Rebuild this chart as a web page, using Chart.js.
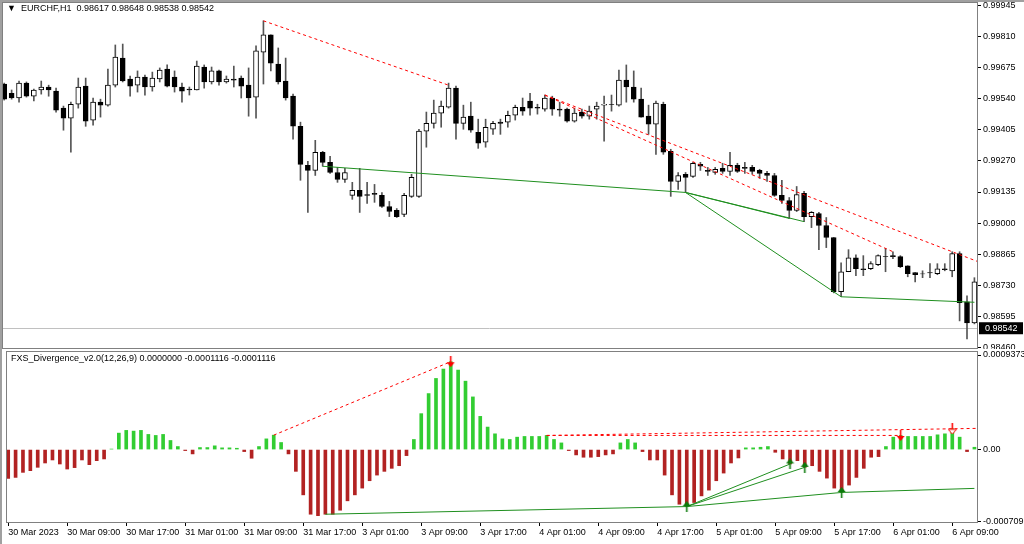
<!DOCTYPE html>
<html>
<head>
<meta charset="utf-8">
<script src="https://cdn.jsdelivr.net/npm/chart.js@4"></script>
<style>
  html, body { margin: 0; padding: 0; background: #fff; }
  #wrap { position: relative; width: 1024px; height: 544px; overflow: hidden; }
  #wrap canvas { position: absolute; left: 0; }
  #main { top: 0; }
  #ind { top: 345px; }
  .frame { position: absolute; background: #a0a0a0; }
</style>
</head>
<body>
<div id="wrap">
  <canvas id="ind" width="1024" height="199"></canvas>
  <canvas id="main" width="1024" height="349"></canvas>
  <div class="frame" style="left:0;top:0;width:2px;height:544px"></div>
  <div class="frame" style="left:0;top:0;width:1024px;height:2px"></div>
</div>
<script>
// EURCHF H1 candles, bar 0 = 30 Mar 2023 01:00
const opens = [0.99605,0.99565,0.99544,0.99609,0.99552,0.99579,0.99592,0.99574,0.99500,0.99456,
  0.99517,0.99596,0.99448,0.99526,0.99513,0.99600,0.99718,0.99627,0.99600,0.99635,
  0.99592,0.99627,0.99670,0.99635,0.99592,0.99583,0.99579,0.99679,0.99614,0.99662,
  0.99614,0.99627,0.99631,0.99600,0.99548,0.99744,0.99819,0.99692,0.99618,0.99552,
  0.99421,0.99251,0.99229,0.99308,0.99264,0.99220,0.99190,0.99120,0.99142,0.99124,
  0.99129,0.99120,0.99072,0.99055,0.99037,0.99116,0.99116,0.99400,0.99434,0.99478,
  0.99504,0.99587,0.99434,0.99465,0.99395,0.99352,0.99408,0.99439,0.99439,0.99469,
  0.99504,0.99531,0.99504,0.99496,0.99544,0.99496,0.99496,0.99443,0.99483,0.99465,
  0.99496,0.99513,0.99517,0.99513,0.99622,0.99592,0.99539,0.99465,0.99430,0.99517,
  0.99312,0.99181,0.99212,0.99203,0.99255,0.99229,0.99220,0.99238,0.99225,0.99251,
  0.99242,0.99242,0.99229,0.99216,0.99207,0.99120,0.99098,0.99055,0.99129,0.99028,
  0.99041,0.98989,0.98937,0.98701,0.98788,0.98849,0.98801,0.98801,0.98819,0.98854,
  0.98858,0.98854,0.98814,0.98784,0.98779,0.98784,0.98779,0.98801,0.98792,0.98867,
  0.98657,0.98565]
const highs = [0.99609,0.99579,0.99618,0.99614,0.99583,0.99618,0.99600,0.99587,0.99509,0.99526,
  0.99631,0.99631,0.99544,0.99539,0.99670,0.99775,0.99779,0.99640,0.99662,0.99644,
  0.99657,0.99675,0.99688,0.99662,0.99609,0.99592,0.99705,0.99688,0.99679,0.99666,
  0.99640,0.99683,0.99640,0.99675,0.99771,0.99880,0.99819,0.99762,0.99718,0.99561,
  0.99439,0.99268,0.99360,0.99312,0.99290,0.99242,0.99238,0.99177,0.99238,0.99177,
  0.99168,0.99133,0.99094,0.99063,0.99129,0.99212,0.99408,0.99483,0.99535,0.99531,
  0.99609,0.99596,0.99513,0.99526,0.99452,0.99452,0.99443,0.99452,0.99487,0.99513,
  0.99544,0.99565,0.99517,0.99557,0.99552,0.99526,0.99500,0.99500,0.99496,0.99509,
  0.99526,0.99552,0.99557,0.99666,0.99688,0.99662,0.99587,0.99513,0.99531,0.99526,
  0.99321,0.99220,0.99220,0.99264,0.99264,0.99242,0.99242,0.99260,0.99308,0.99260,
  0.99264,0.99251,0.99234,0.99225,0.99216,0.99186,0.99111,0.99159,0.99138,0.99050,
  0.99046,0.99024,0.98937,0.98827,0.98884,0.98862,0.98858,0.98832,0.98862,0.98889,
  0.98875,0.98858,0.98814,0.98784,0.98792,0.98823,0.98823,0.98823,0.98875,0.98875,
  0.98683,0.98762]
const lows = [0.99535,0.99539,0.99526,0.99548,0.99531,0.99561,0.99552,0.99483,0.99404,0.99308,
  0.99500,0.99421,0.99426,0.99461,0.99509,0.99592,0.99614,0.99552,0.99570,0.99557,
  0.99574,0.99614,0.99592,0.99570,0.99526,0.99557,0.99579,0.99587,0.99605,0.99600,
  0.99609,0.99592,0.99544,0.99465,0.99456,0.99605,0.99662,0.99605,0.99535,0.99365,
  0.99186,0.99046,0.99207,0.99247,0.99216,0.99177,0.99177,0.99103,0.99046,0.99085,
  0.99090,0.99068,0.99028,0.99024,0.99028,0.99111,0.99111,0.99330,0.99413,0.99417,
  0.99500,0.99365,0.99408,0.99395,0.99325,0.99330,0.99386,0.99386,0.99417,0.99448,
  0.99469,0.99469,0.99474,0.99487,0.99469,0.99465,0.99439,0.99439,0.99456,0.99452,
  0.99452,0.99356,0.99487,0.99509,0.99526,0.99526,0.99461,0.99386,0.99299,0.99299,
  0.99116,0.99146,0.99133,0.99199,0.99229,0.99207,0.99212,0.99216,0.99207,0.99220,
  0.99216,0.99212,0.99194,0.99181,0.99116,0.99085,0.99020,0.99050,0.99006,0.98980,
  0.98884,0.98893,0.98696,0.98679,0.98788,0.98771,0.98771,0.98797,0.98814,0.98788,
  0.98845,0.98806,0.98766,0.98744,0.98762,0.98762,0.98775,0.98792,0.98766,0.98574,
  0.98496,0.98561]
const closes = [0.99539,0.99544,0.99609,0.99552,0.99579,0.99592,0.99579,0.99491,0.99456,0.99517,
  0.99592,0.99443,0.99526,0.99513,0.99600,0.99722,0.99618,0.99596,0.99635,0.99592,
  0.99631,0.99666,0.99596,0.99592,0.99574,0.99579,0.99683,0.99614,0.99662,0.99614,
  0.99627,0.99622,0.99596,0.99544,0.99749,0.99819,0.99696,0.99614,0.99544,0.99421,
  0.99255,0.99229,0.99308,0.99264,0.99220,0.99190,0.99220,0.99142,0.99116,0.99120,
  0.99124,0.99072,0.99050,0.99028,0.99120,0.99199,0.99400,0.99434,0.99478,0.99509,
  0.99587,0.99434,0.99461,0.99404,0.99347,0.99417,0.99434,0.99434,0.99469,0.99504,
  0.99487,0.99500,0.99500,0.99544,0.99496,0.99491,0.99443,0.99478,0.99465,0.99487,
  0.99509,0.99517,0.99516,0.99622,0.99592,0.99539,0.99461,0.99430,0.99522,0.99308,
  0.99181,0.99207,0.99199,0.99260,0.99247,0.99225,0.99234,0.99225,0.99251,0.99225,
  0.99238,0.99225,0.99216,0.99207,0.99120,0.99098,0.99055,0.99124,0.99028,0.99046,
  0.98989,0.98937,0.98701,0.98788,0.98849,0.98801,0.98797,0.98823,0.98858,0.98853,
  0.98854,0.98810,0.98779,0.98775,0.98778,0.98783,0.98801,0.98797,0.98867,0.98653,
  0.98565,0.98744]

// FXS_Divergence histogram
const hist = [-0.000286,-0.000276,-0.000226,-0.000209,-0.000176,-0.000133,-0.000103,-0.000143,-0.000193,-0.000179,
  -0.000103,-0.000150,-0.000110,-0.000093,0.000005,0.000163,0.000190,0.000183,0.000190,0.000150,
  0.000140,0.000150,0.000090,0.000030,-0.000010,-0.000043,0.000020,0.000020,0.000037,0.000017,
  0.000017,0.000013,-0.000020,-0.000086,0.000030,0.000106,0.000143,0.000070,-0.000043,-0.000216,
  -0.000449,-0.000641,-0.000655,-0.000641,-0.000641,-0.000601,-0.000508,-0.000449,-0.000382,-0.000309,
  -0.000253,-0.000216,-0.000186,-0.000160,-0.000060,0.000100,0.000356,0.000555,0.000705,0.000798,
  0.000871,0.000788,0.000678,0.000522,0.000329,0.000223,0.000156,0.000106,0.000100,0.000123,
  0.000130,0.000130,0.000130,0.000140,0.000100,0.000066,-0.000010,-0.000053,-0.000076,-0.000076,
  -0.000070,-0.000053,-0.000043,0.000066,0.000100,0.000066,-0.000020,-0.000103,-0.000103,-0.000253,
  -0.000449,-0.000542,-0.000565,-0.000525,-0.000459,-0.000402,-0.000309,-0.000233,-0.000133,-0.000083,
  0.000017,0.000017,0.000023,0.000030,-0.000027,-0.000093,-0.000143,-0.000110,-0.000176,-0.000160,
  -0.000216,-0.000283,-0.000382,-0.000425,-0.000352,-0.000276,-0.000186,-0.000076,-0.000070,0.000030,
  0.000123,0.000140,0.000130,0.000130,0.000130,0.000130,0.000146,0.000156,0.000206,0.000123,
  -0.000020,0.000023]

const tickBars = [0,8,16,24,32,40,48,56,64,72,80,88,96,104,112,120,128]
const tickLabels = ['30 Mar 2023','30 Mar 09:00','30 Mar 17:00','31 Mar 01:00','31 Mar 09:00',
  '31 Mar 17:00','3 Apr 01:00','3 Apr 09:00','3 Apr 17:00','4 Apr 01:00','4 Apr 09:00',
  '4 Apr 17:00','5 Apr 01:00','5 Apr 09:00','5 Apr 17:00','6 Apr 01:00','6 Apr 09:00']
const priceTicks = [0.99945,0.99810,0.99675,0.99540,0.99405,0.99270,0.99135,0.99000,0.98865,0.98730,0.98595,0.98460]
const indTicks = [0.0009373, 0, -0.000709]
const indTickLabels = ['0.0009373','0.00','-0.000709']
const lastPrice = 0.98542

// divergence lines: [bar, value] pairs
const priceRed = [[[35,0.99880],[60,0.99600]], [[73,0.99557],[120,0.98875]], [[73,0.99557],[128,0.98875]]]
const priceGreen = [[[43,0.99247],[92,0.99133]], [[92,0.99133],[106,0.99020]], [[92,0.99133],[108,0.99006]],
  [[92,0.99133],[113,0.98679]], [[113,0.98679],[131,0.98655]]]
const indRed = [[[36,0.000143],[60,0.000871]], [[73,0.000140],[121,0.000140]], [[73,0.000140],[128,0.000206]]]
const indGreen = [[[43,-0.000641],[92,-0.000565]], [[92,-0.000565],[106,-0.000143]], [[92,-0.000565],[108,-0.000176]],
  [[92,-0.000565],[113,-0.000425]], [[113,-0.000425],[131,-0.000385]]]
const upArrows = [92, 106, 108, 113]
const downArrows = [60, 121]
const hollowArrows = [128]

const X_MIN = -0.3, X_MAX = 131.35
const FONT = { family: 'Liberation Sans', size: 9 }
const GREEN = '#1f8f1f', RED = '#ff0000'

function segDataset(seg, color, dash, extend) {
  const pts = seg.map(p => ({ x: p[0], y: p[1] }))
  if (extend) {
    const [a, b] = seg
    const k = (b[1] - a[1]) / (b[0] - a[0])
    pts.push({ x: X_MAX, y: b[1] + k * (X_MAX - b[0]) })
  }
  return { type: 'line', data: pts, borderColor: color, borderWidth: 1, borderDash: dash ? [3, 3] : [],
    pointRadius: 0, fill: false, tension: 0, order: 0 }
}

function arrowImg(color, down, hollow) {
  const c = document.createElement('canvas')
  c.width = 9; c.height = 11
  const g = c.getContext('2d')
  g.save()
  if (down) { g.translate(0, 11); g.scale(1, -1) }
  g.strokeStyle = color; g.fillStyle = color; g.lineWidth = 1.6
  g.beginPath(); g.moveTo(4.5, 3); g.lineTo(4.5, 11); g.stroke()
  g.beginPath(); g.moveTo(4.5, 0); g.lineTo(8.5, 5); g.lineTo(0.5, 5); g.closePath()
  if (hollow) { g.fillStyle = '#fff'; g.fill(); g.lineWidth = 1; g.stroke() } else g.fill()
  g.restore()
  return c
}

const framePlugin = {
  id: 'frame',
  afterDraw(chart) {
    const { ctx, chartArea: a } = chart
    ctx.save()
    ctx.strokeStyle = '#808080'; ctx.lineWidth = 1
    ctx.strokeRect(a.left + 0.5, a.top + 0.5, a.right - a.left, a.bottom - a.top)
    ctx.restore()
  }
}

const noPadY = s => { s.width = 47; s.paddingTop = 0; s.paddingBottom = 0 }
const idx = opens.map((_, i) => i)

// ---------- main price pane ----------
const pricePlugin = {
  id: 'price',
  beforeDatasetsDraw(chart) {
    const { ctx, chartArea: a, scales: { y } } = chart
    const py = Math.round(y.getPixelForValue(lastPrice)) + 0.5
    ctx.save()
    ctx.strokeStyle = '#c0c0c0'; ctx.lineWidth = 1
    ctx.beginPath(); ctx.moveTo(a.left, py); ctx.lineTo(a.right, py); ctx.stroke()
    ctx.restore()
  },
  afterDraw(chart) {
    const { ctx, chartArea: a, scales: { y } } = chart
    const py = y.getPixelForValue(lastPrice)
    ctx.save()
    ctx.fillStyle = '#000'
    ctx.fillRect(a.right + 2, py - 6, 44, 12)
    ctx.fillStyle = '#fff'; ctx.font = '9px "Liberation Sans"'; ctx.textBaseline = 'middle'
    ctx.fillText(lastPrice.toFixed(5), a.right + 8, py)
    ctx.fillStyle = '#000'
    ctx.fillText('\u25BC  EURCHF,H1  0.98617 0.98648 0.98538 0.98542', a.left + 5, a.top + 7)
    ctx.restore()
  }
}

new Chart(document.getElementById('main'), {
  data: {
    datasets: [
      ...priceRed.map((s, i) => segDataset(s, RED, true, i === 2)),
      ...priceGreen.map(s => segDataset(s, GREEN, false, false)),
      { type: 'bar', data: idx.map(i => ({ x: i, y: [opens[i], closes[i] === opens[i] ? closes[i] - 0.000005 : closes[i]] })),
        backgroundColor: idx.map(i => closes[i] > opens[i] ? '#ffffff' : '#000000'),
        borderColor: '#000', borderWidth: 1, borderSkipped: false, barThickness: 5, grouped: false, order: 1 },
      { type: 'bar', data: idx.map(i => ({ x: i, y: [lows[i], highs[i]] })),
        backgroundColor: '#555', barThickness: 1, grouped: false, order: 2 }
    ]
  },
  options: {
    responsive: false, animation: false, events: [],
    layout: { padding: { left: 2, top: 2, right: 0, bottom: 1 } },
    plugins: { legend: { display: false }, tooltip: { enabled: false } },
    scales: {
      x: { type: 'linear', min: X_MIN, max: X_MAX, offset: false, display: false },
      y: {
        position: 'right', min: 0.98456, max: 0.99962,
        afterFit: noPadY,
        afterBuildTicks: s => { s.ticks = priceTicks.map(v => ({ value: v })) },
        grid: { drawOnChartArea: false, tickLength: 4, color: '#000' },
        border: { display: false },
        ticks: { font: FONT, color: '#000', padding: 2, callback: v => v.toFixed(5) }
      }
    }
  },
  plugins: [framePlugin, pricePlugin]
})

// ---------- indicator pane ----------
const indPlugin = {
  id: 'indTitle',
  afterDraw(chart) {
    const { ctx, chartArea: a } = chart
    ctx.save()
    ctx.fillStyle = '#000'; ctx.font = '9px "Liberation Sans"'; ctx.textBaseline = 'middle'
    ctx.fillText('FXS_Divergence_v2.0(12,26,9) 0.0000000 -0.0001116 -0.0001116', a.left + 5, a.top + 8)
    ctx.restore()
  }
}

const arrowSet = (bars, img) => ({
  type: 'scatter', data: bars.map(i => ({ x: i, y: hist[i] })), pointStyle: img,
  pointRadius: 5, order: -1
})

new Chart(document.getElementById('ind'), {
  data: {
    datasets: [
      ...indRed.map((s, i) => segDataset(s, RED, true, i === 2)),
      ...indGreen.map(s => segDataset(s, GREEN, false, false)),
      arrowSet(upArrows, arrowImg('#0a7a0a', false, false)),
      arrowSet(downArrows, arrowImg('#ff0000', true, false)),
      arrowSet(hollowArrows, arrowImg('#ff0000', true, true)),
      { type: 'bar', data: idx.map(i => ({ x: i, y: hist[i] })),
        backgroundColor: hist.map(v => v >= 0 ? '#32cd32' : '#b22222'),
        barThickness: 3, grouped: false, order: 1 }
    ]
  },
  options: {
    responsive: false, animation: false, events: [],
    layout: { padding: { left: 2, top: 2, right: 0, bottom: 0 } },
    plugins: { legend: { display: false }, tooltip: { enabled: false } },
    scales: {
      x: {
        type: 'linear', min: X_MIN, max: X_MAX, offset: false,
        afterFit: s => { s.height = 22; s.paddingLeft = 0; s.paddingRight = 0 },
        afterBuildTicks: s => { s.ticks = tickBars.map(v => ({ value: v })) },
        grid: { drawOnChartArea: false, tickLength: 4, color: '#000', offset: false },
        border: { display: false },
        ticks: { font: FONT, color: '#000', padding: 1, align: 'start', maxRotation: 0, autoSkip: false,
          callback: (v, i) => tickLabels[i] }
      },
      y: {
        position: 'right', min: -0.000718, max: 0.000977,
        afterFit: noPadY,
        afterBuildTicks: s => { s.ticks = indTicks.map(v => ({ value: v })) },
        grid: { drawOnChartArea: false, tickLength: 4, color: '#000' },
        border: { display: false },
        ticks: { font: FONT, color: '#000', padding: 2, callback: (v, i) => indTickLabels[i] }
      }
    }
  },
  plugins: [framePlugin, indPlugin]
})
</script>
</body>
</html>
